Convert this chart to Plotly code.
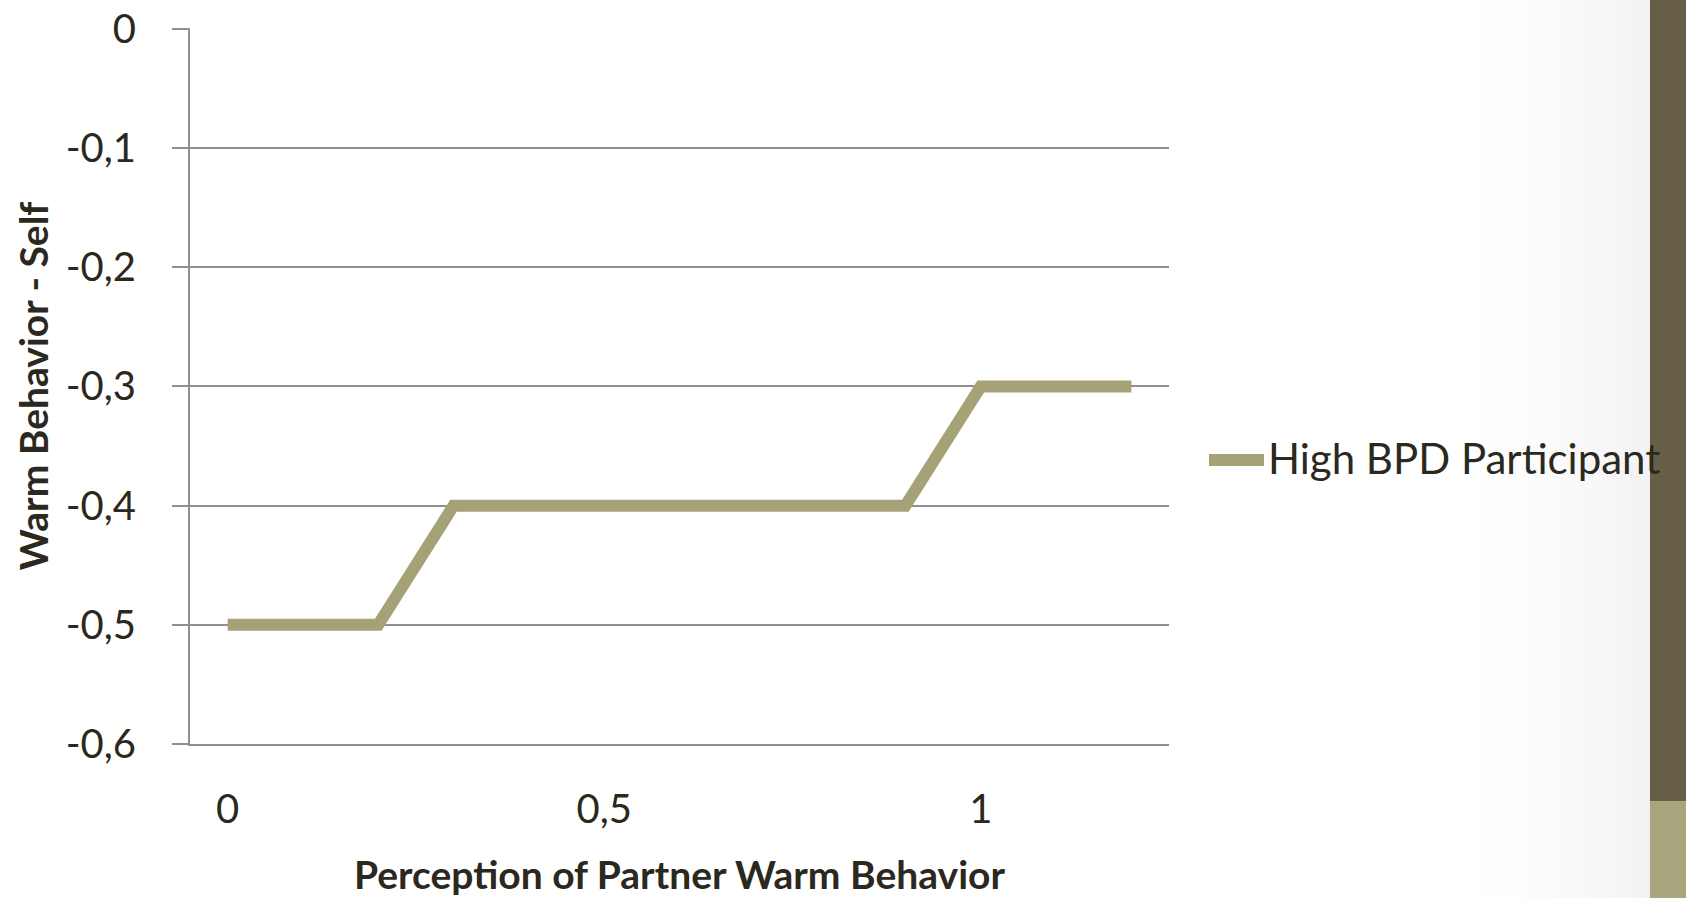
import plotly.graph_objects as go

# Data
x_vals = [0, 0.1, 0.2, 0.3, 0.4, 0.5, 0.6, 0.7, 0.8, 0.9, 1.0, 1.1, 1.2]
y_vals = [-0.5, -0.5, -0.5, -0.4, -0.4, -0.4, -0.4, -0.4, -0.4, -0.4, -0.3, -0.3, -0.3]
series_name = "High BPD Participant"
x_ticks = [0, 0.5, 1]
x_tick_labels = ["0", "0,5", "1"]
y_ticks = [0, -0.1, -0.2, -0.3, -0.4, -0.5, -0.6]
y_tick_labels = ["0", "-0,1", "-0,2", "-0,3", "-0,4", "-0,5", "-0,6"]
x_title = "Perception of Partner Warm Behavior"
y_title = "Warm Behavior - Self"

W, H = 1686, 898
L, R, T, B = 190, 517, 28, 154
pw = W - L - R
ph = H - T - B

def px_x(p):
    return (p - L) / pw

def px_y(p):
    return (H - B - p) / ph

LINE_COLOR = "#a6a277"
TEXT_COLOR = "#2b2820"
GRID = "#8f8f8f"
FONT = "Lato"

fig = go.Figure()
fig.add_trace(go.Scatter(
    x=x_vals, y=y_vals, mode="lines", name=series_name,
    line=dict(color=LINE_COLOR, width=12),
    showlegend=False, hoverinfo="skip",
))

shapes = []
# background gradient on the right
n = 40
x0p, x1p = 1440, 1650
for i in range(n):
    a = x0p + (x1p - x0p) * i / n
    b = x0p + (x1p - x0p) * (i + 1) / n
    t = (i + 0.5) / n
    v = int(round(255 - 13 * t ** 1.8))
    shapes.append(dict(type="rect", xref="paper", yref="paper",
                       x0=px_x(a), x1=px_x(b + 0.5), y0=px_y(H + 5), y1=px_y(-5),
                       fillcolor=f"rgb({v},{v},{v})", line=dict(width=0),
                       layer="below"))
# dark side bar
shapes.append(dict(type="rect", xref="paper", yref="paper",
                   x0=px_x(1650), x1=px_x(1700), y0=px_y(801), y1=px_y(-5),
                   fillcolor="#675e48", line=dict(width=0), layer="below"))
shapes.append(dict(type="rect", xref="paper", yref="paper",
                   x0=px_x(1650), x1=px_x(1700), y0=px_y(905), y1=px_y(801),
                   fillcolor="#a9a57c", line=dict(width=0), layer="below"))
# legend sample line
shapes.append(dict(type="line", xref="paper", yref="paper",
                   x0=px_x(1209), x1=px_x(1264), y0=px_y(460), y1=px_y(460),
                   line=dict(color=LINE_COLOR, width=12)))

annotations = [dict(
    xref="paper", yref="paper", x=px_x(1266), y=px_y(458),
    text=series_name, showarrow=False, xanchor="left", yanchor="middle",
    font=dict(family=FONT, size=42, color=TEXT_COLOR),
)]

fig.update_layout(
    width=W, height=H,
    margin=dict(l=L, r=R, t=T, b=B),
    paper_bgcolor="white", plot_bgcolor="rgba(0,0,0,0)",
    font=dict(family=FONT, color=TEXT_COLOR),
    shapes=shapes, annotations=annotations,
    hovermode=False,
    xaxis=dict(
        range=[-0.05, 1.25], tickvals=x_ticks, ticktext=x_tick_labels,
        showgrid=False, zeroline=False, showline=True, linecolor=GRID, linewidth=2,
        ticks="", tickfont=dict(family=FONT, size=40, color=TEXT_COLOR),
        ticklabelstandoff=29, automargin=False,
        title=dict(text=f"<b>{x_title}</b>", font=dict(family=FONT, size=39, color=TEXT_COLOR), standoff=31),
    ),
    yaxis=dict(
        range=[-0.6, 0.0008], tickvals=y_ticks, ticktext=y_tick_labels,
        showgrid=True, gridcolor=GRID, gridwidth=2, zeroline=False,
        showline=True, linecolor=GRID, linewidth=2,
        ticks="outside", ticklen=16, tickcolor=GRID, tickwidth=2,
        tickfont=dict(family=FONT, size=40, color=TEXT_COLOR),
        ticklabelstandoff=28, automargin=False,
        title=dict(text=f"<b>{y_title}</b>", font=dict(family=FONT, size=39, color=TEXT_COLOR), standoff=5),
    ),
)

fig.write_html(
    "out.html",
    config={"displayModeBar": False},
    post_script="document.body.style.margin='0';document.body.style.overflow='hidden';",
)
